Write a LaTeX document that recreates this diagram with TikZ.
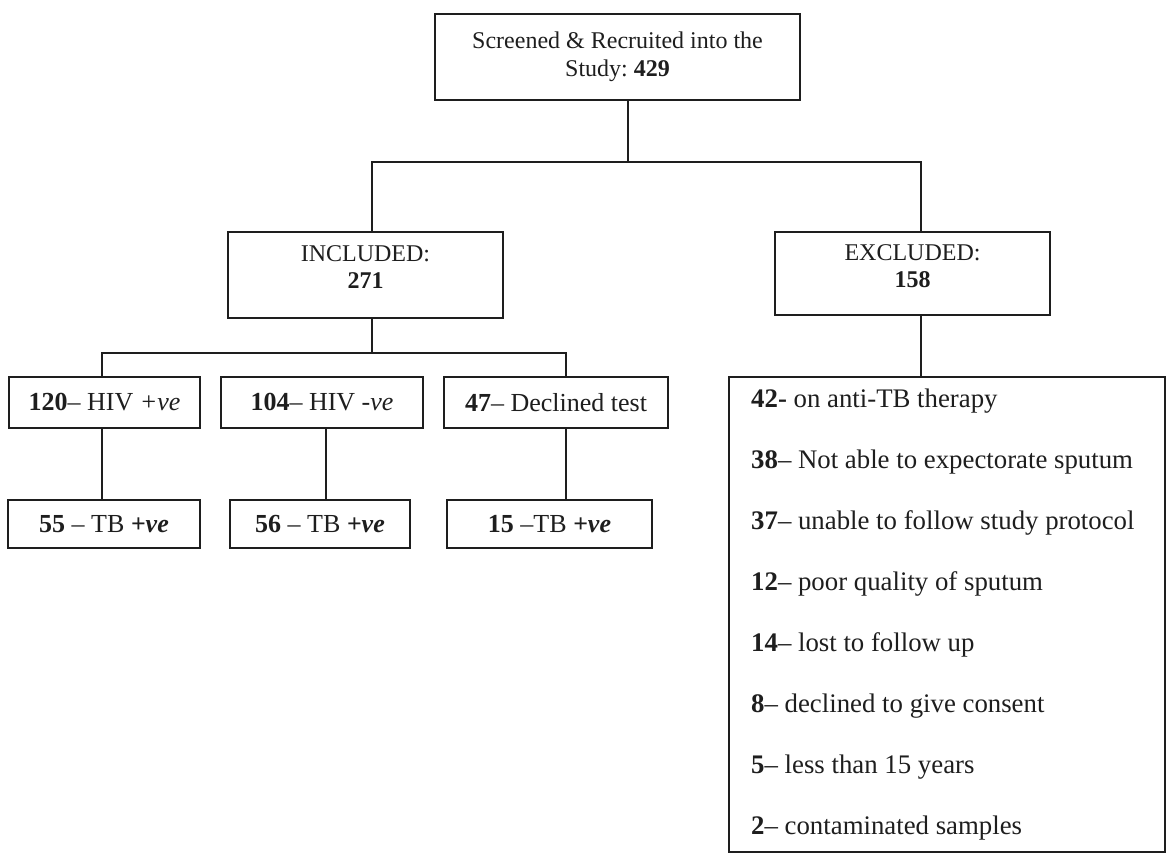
\documentclass[tikz,border=0pt]{standalone}
\usepackage{fontspec}
\setmainfont{Liberation Serif}
\definecolor{ink}{HTML}{1E1E1E}
\newcommand\fsTop{\fontsize{24}{28}\selectfont}
\newcommand\fsMid{\fontsize{24}{27}\selectfont}
\newcommand\fsRow{\fontsize{26}{28}\selectfont}
\newcommand\fsList{\fontsize{26.8}{28}\selectfont}
\begin{document}
\begin{tikzpicture}[x=1pt,y=-1pt,
  box/.style={draw=ink, line width=2.7pt, inner sep=0pt, rectangle},
  conn/.style={draw=ink, line width=2.7pt},
  txt/.style={text=ink, inner sep=0pt, align=center},
  item/.style={text=ink, inner sep=0pt, anchor=west, font=\fsList}]
\useasboundingbox[fill=white] (0,0) rectangle (1169,854);

% boxes
\node[box, minimum width=365pt, minimum height=86pt, font=\fsTop, txt] (top) at (617.5,57)
  {Screened \& Recruited into the\\Study:\ \textbf{429}};
\node[box, minimum width=275pt, minimum height=86pt] (inc) at (365.5,275) {};
\node[txt, font=\fsMid] (incT) at ([yshift=8pt]inc.center) {INCLUDED:\\\textbf{271}};
\node[box, minimum width=275pt, minimum height=83pt] (exc) at (912.5,273.5) {};
\node[txt, font=\fsMid] (excT) at ([yshift=7pt]exc.center) {EXCLUDED:\\\textbf{158}};

\node[box, txt, font=\fsRow, minimum width=191pt, minimum height=51pt] (hiv1) at (104.5,402.5)
  {\textbf{120}– HIV \textit{+ve}};
\node[box, txt, font=\fsRow, minimum width=202pt, minimum height=51pt] (hiv2) at (322,402.5)
  {\textbf{104}– HIV \textit{-ve}};
\node[box, txt, font=\fsRow, minimum width=224pt, minimum height=51pt] (hiv3) at (556,402.5)
  {\textbf{47}– Declined test};

\node[box, txt, font=\fsRow, minimum width=192pt, minimum height=48pt] (tb1) at (104,524)
  {\textbf{55} – TB \textbf{\textit{+ve}}};
\node[box, txt, font=\fsRow, minimum width=180pt, minimum height=48pt] (tb2) at (320,524)
  {\textbf{56} – TB \textbf{\textit{+ve}}};
\node[box, txt, font=\fsRow, minimum width=205pt, minimum height=48pt] (tb3) at (549.5,524)
  {\textbf{15} –TB \textbf{\textit{+ve}}};

\node[box, minimum width=436pt, minimum height=475pt] (list) at (947,614.5) {};
\node[item] (r1) at (751,401) {\textbf{42-} on anti-TB therapy};
\node[item] (r2) at (751,462) {\textbf{38}– Not able to expectorate sputum};
\node[item] (r3) at (751,523) {\textbf{37}– unable to follow study protocol};
\node[item] (r4) at (751,584) {\textbf{12}– poor quality of sputum};
\node[item] (r5) at (751,645) {\textbf{14}– lost to follow up};
\node[item] (r6) at (751,706) {\textbf{8}– declined to give consent};
\node[item] (r7) at (751,767) {\textbf{5}– less than 15 years};
\node[item] (r8) at (751,828) {\textbf{2}– contaminated samples};

% junctions and connector columns
\coordinate (b1) at (628,162);
\coordinate (xi) at (372,0);
\coordinate (xe) at (921,0);
\coordinate (b2) at (372,353);
\coordinate (xh1) at (102,0);
\coordinate (xh3) at (566,0);
\coordinate (xt2) at (326,0);

\draw[conn] (top.south -| b1) -- (b1);
\draw[conn] (inc.north -| xi) |- (b1) -| (exc.north -| xe);
\draw[conn] (inc.south -| b2) -- (b2);
\draw[conn] (hiv1.north -| xh1) |- (b2) -| (hiv3.north -| xh3);
\draw[conn] (exc.south -| xe) -- (list.north -| xe);
\draw[conn] (hiv1.south -| xh1) -- (tb1.north -| xh1);
\draw[conn] (hiv2.south -| xt2) -- (tb2.north -| xt2);
\draw[conn] (hiv3.south -| xh3) -- (tb3.north -| xh3);
\end{tikzpicture}
\end{document}
